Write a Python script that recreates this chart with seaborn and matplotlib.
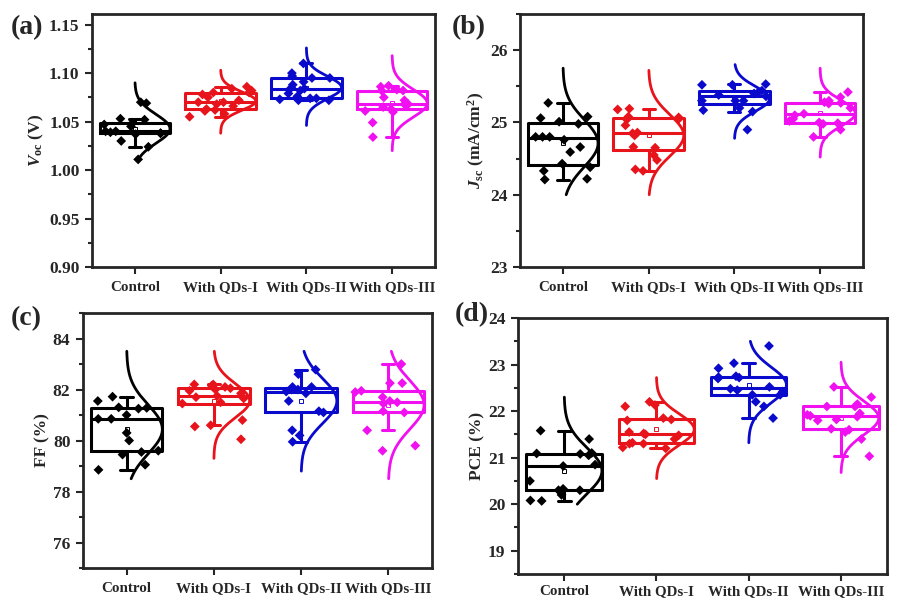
import numpy as np
import pandas as pd
import seaborn as sns
import matplotlib.pyplot as plt
from matplotlib.ticker import AutoMinorLocator

sns.set_style("ticks")
plt.rcParams['font.family'] = ['Liberation Serif', 'DejaVu Serif']
plt.rcParams['font.weight'] = 'bold'
plt.rcParams['axes.labelweight'] = 'bold'
plt.rcParams['mathtext.fontset'] = 'custom'
plt.rcParams['mathtext.rm'] = 'Liberation Serif:bold'
plt.rcParams['mathtext.it'] = 'Liberation Serif:bold:italic'
plt.rcParams['mathtext.bf'] = 'Liberation Serif:bold'

groups = ['Control', 'With QDs-I', 'With QDs-II', 'With QDs-III']
colors = ['#000000', '#e8141c', '#0a0acd', '#f010f0']

# Voc (V)
voc_control = [1.011, 1.024, 1.030, 1.037, 1.038, 1.038, 1.039, 1.040,
               1.040, 1.045, 1.047, 1.048, 1.052, 1.053, 1.069, 1.070]
voc_qd1 = [1.055, 1.058, 1.061, 1.062, 1.063, 1.066, 1.068, 1.070, 1.070,
           1.072, 1.075, 1.078, 1.080, 1.080, 1.082, 1.084, 1.086]
voc_qd2 = [1.072, 1.072, 1.073, 1.074, 1.074, 1.076, 1.079, 1.082, 1.084,
           1.085, 1.088, 1.091, 1.095, 1.095, 1.097, 1.100, 1.110]
voc_qd3 = [1.034, 1.049, 1.060, 1.061, 1.063, 1.065, 1.067, 1.068,
           1.068, 1.072, 1.075, 1.082, 1.082, 1.083, 1.086, 1.087]

# Jsc (mA/cm2)
jsc_control = [24.21, 24.22, 24.33, 24.38, 24.43, 24.59, 24.66, 24.76,
               24.80, 24.80, 24.80, 24.98, 25.01, 25.06, 25.08, 25.27]
jsc_qd1 = [24.33, 24.35, 24.48, 24.55, 24.65, 24.66, 24.82, 24.85,
           24.86, 24.96, 25.04, 25.05, 25.07, 25.08, 25.18, 25.19]
jsc_qd2 = [24.90, 25.15, 25.17, 25.20, 25.30, 25.30, 25.30, 25.36,
           25.38, 25.40, 25.42, 25.44, 25.52, 25.52, 25.53]
jsc_qd3 = [24.80, 24.90, 24.98, 24.99, 25.00, 25.02, 25.05, 25.10,
           25.12, 25.20, 25.26, 25.27, 25.28, 25.30, 25.35, 25.42]

# FF (%)
ff_control = [78.85, 79.05, 79.45, 79.55, 79.60, 80.00, 80.30, 80.85,
              80.85, 81.00, 81.25, 81.28, 81.30, 81.55, 81.72]
ff_qd1 = [80.05, 80.55, 80.60, 80.80, 81.45, 81.50, 81.65, 81.70, 81.75,
          81.85, 81.95, 82.00, 82.05, 82.10, 82.15, 82.20, 82.20]
ff_qd2 = [79.95, 80.20, 80.40, 81.10, 81.15, 81.55, 81.85, 81.92,
          82.00, 82.00, 82.10, 82.10, 82.60, 82.78]
ff_qd3 = [79.60, 79.80, 80.40, 81.10, 81.15, 81.45, 81.50, 81.55,
          81.70, 81.90, 81.95, 82.25, 82.25, 83.00]

# PCE (%)
pce_control = [20.07, 20.08, 20.20, 20.30, 20.30, 20.33, 20.50, 20.82,
               20.85, 21.05, 21.08, 21.09, 21.10, 21.40, 21.58]
pce_qd1 = [21.20, 21.22, 21.30, 21.30, 21.32, 21.40, 21.48, 21.50,
           21.52, 21.55, 21.80, 21.82, 21.85, 22.10, 22.13, 22.20]
pce_qd2 = [21.85, 22.10, 22.20, 22.35, 22.35, 22.42, 22.45, 22.48,
           22.52, 22.70, 22.72, 22.73, 22.75, 22.92, 23.03, 23.40]
pce_qd3 = [21.03, 21.40, 21.55, 21.60, 21.62, 21.80, 21.82, 21.88,
           21.90, 21.92, 21.95, 22.10, 22.10, 22.15, 22.30, 22.52]

# range over which each normal curve is drawn (low, high)
voc_curve = [(1.013, 1.090), (1.038, 1.103), (1.046, 1.126), (1.020, 1.118)]
jsc_curve = [(24.00, 25.75), (24.00, 25.72), (24.78, 25.80), (24.52, 25.75)]
ff_curve = [(78.5, 83.5), (79.3, 83.5), (78.8, 83.5), (78.5, 83.5)]
pce_curve = [(20.00, 22.30), (20.55, 22.72), (21.32, 23.50), (20.68, 23.05)]

BOXW = 0.82


def draw_panel(ax, values, curves, ylim, yticks, ylabel, seed, xpad=5):
    rows = [(g, v) for g, vals in zip(groups, values) for v in vals]
    df = pd.DataFrame(rows, columns=['group', 'value'])
    sns.boxplot(data=df, x='group', y='value', hue='group', palette=colors,
                fill=False, width=BOXW, linewidth=2.2, whis=1.5,
                showfliers=False, legend=False, ax=ax, capwidths=0.14)
    np.random.seed(seed)
    sns.stripplot(data=df, x='group', y='value', hue='group', palette=colors,
                  jitter=0.38, marker='D', size=5, legend=False, ax=ax)
    for i, (vals, (lo, hi)) in enumerate(zip(values, curves)):
        mu, sd = np.mean(vals), np.std(vals, ddof=1)
        yy = np.linspace(lo, hi, 200)
        xx = i + BOXW / 2 * np.exp(-(yy - mu) ** 2 / (2 * sd ** 2))
        ax.plot(xx, yy, color=colors[i], lw=2)
        ax.plot(i, mu, 's', ms=3.5, mfc='white', mec=colors[i], mew=0.7)
    ax.set_xlim(-0.5, 3.5)
    ax.set_ylim(*ylim)
    ax.set_yticks(yticks)
    ax.yaxis.set_minor_locator(AutoMinorLocator(2))
    ax.set_xlabel('')
    ax.set_ylabel(ylabel, fontsize=12.5, fontweight='bold', labelpad=2)
    ax.tick_params(axis='both', which='major', length=5, width=1.5, pad=4)
    ax.tick_params(axis='y', labelsize=12.5)
    ax.tick_params(axis='x', labelsize=10.8, pad=xpad)
    ax.tick_params(axis='y', which='minor', length=3, width=1.5)
    for s in ax.spines.values():
        s.set_linewidth(2)
        s.set_visible(True)
    for lab in ax.get_xticklabels() + ax.get_yticklabels():
        lab.set_fontweight('bold')


fig = plt.figure(figsize=(8.98, 6.03), dpi=100)
ax_a = fig.add_axes([0.1024, 0.5572, 0.3820, 0.4196])
ax_b = fig.add_axes([0.5791, 0.5572, 0.3819, 0.4196])
ax_c = fig.add_axes([0.0924, 0.0580, 0.3886, 0.4229])
ax_d = fig.add_axes([0.5768, 0.0481, 0.4110, 0.4245])

draw_panel(ax_a, [voc_control, voc_qd1, voc_qd2, voc_qd3], voc_curve,
           (0.90, 1.161), [0.90, 0.95, 1.00, 1.05, 1.10, 1.15],
           r'$V_{\rm oc}$ (V)', 3)
ax_a.yaxis.set_major_formatter(plt.FormatStrFormatter('%.2f'))
draw_panel(ax_b, [jsc_control, jsc_qd1, jsc_qd2, jsc_qd3], jsc_curve,
           (23, 26.5), [23, 24, 25, 26], r'$J_{\rm sc}$ (mA/cm$^{2}$)', 5)
draw_panel(ax_c, [ff_control, ff_qd1, ff_qd2, ff_qd3], ff_curve,
           (75, 85), [76, 78, 80, 82, 84], 'FF (%)', 7)
draw_panel(ax_d, [pce_control, pce_qd1, pce_qd2, pce_qd3], pce_curve,
           (18.5, 24), [19, 20, 21, 22, 23, 24], 'PCE (%)', 11, xpad=3)

for lbl, x, y in [('(a)', 0.012, 0.955), ('(b)', 0.503, 0.955),
                  ('(c)', 0.012, 0.472), ('(d)', 0.506, 0.478)]:
    fig.text(x, y, lbl, fontsize=20, fontweight='bold', va='center')

fig.savefig('out.png', dpi=100)
